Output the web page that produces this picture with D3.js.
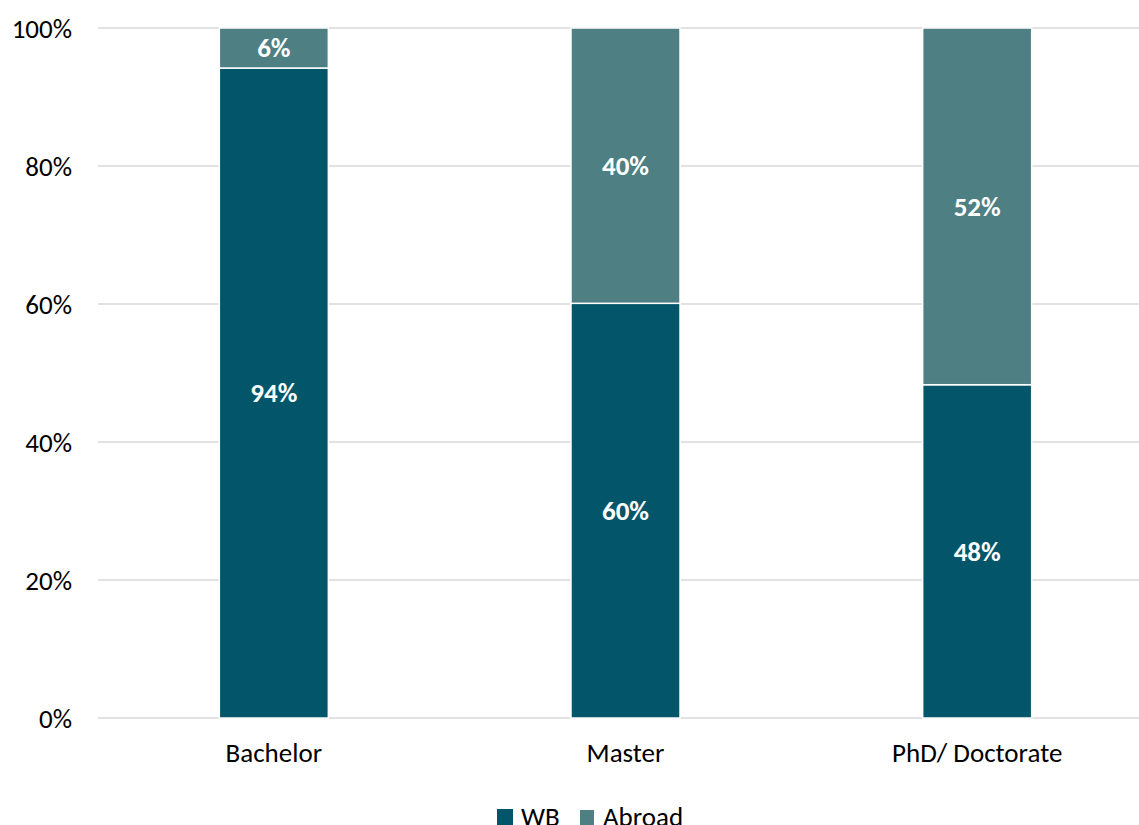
<!DOCTYPE html>
<html><head><meta charset="utf-8">
<script src="https://cdn.jsdelivr.net/npm/d3@7"></script>
<style>body{margin:0;background:#fff}svg{display:block}</style>
</head><body>
<script>
const categories = ["Bachelor", "Master", "PhD/ Doctorate"];
const wbValues = [94.2, 60.1, 48.3];
const abroadValues = [5.8, 39.9, 51.7];
const wbLabels = ["94%", "60%", "48%"];
const abroadLabels = ["6%", "40%", "52%"];
const seriesNames = ["WB", "Abroad"];
const tickValues = [0, 20, 40, 60, 80, 100];
const colors = ["#03566A", "#4E7F82"];

const W = 1139, H = 825;
const svg = d3.select("body").append("svg").attr("width", W).attr("height", H);
const font = "Carlito, 'Open Sans', 'Noto Sans', sans-serif";

const x = d3.scaleBand().domain(categories).range([98, 1153]).paddingInner(0.69).paddingOuter(0.345);
const y = d3.scaleLinear().domain([0, 100]).range([718, 28]);

// gridlines
svg.append("g").selectAll("line").data(tickValues).join("line")
  .attr("x1", 98).attr("x2", W).attr("y1", d => y(d)).attr("y2", d => y(d))
  .attr("stroke", "#d9d9d9").attr("stroke-width", 1.3);

// y axis
const yAxis = d3.axisLeft(y).tickValues(tickValues).tickFormat(d => d + "%").tickSize(0).tickPadding(0);
const ga = svg.append("g").attr("transform", "translate(72,0)").call(yAxis);
ga.select(".domain").remove();
ga.selectAll("text").attr("font-family", font).attr("font-size", 27).attr("fill", "#000").attr("dy", "0.35em");

// stacked bars
const data = categories.map((c, i) => ({cat: c, WB: wbValues[i], Abroad: abroadValues[i]}));
const stack = d3.stack().keys(seriesNames)(data);
const labels = [wbLabels, abroadLabels];
stack.forEach((s, si) => {
  const g = svg.append("g");
  g.selectAll("rect").data(s).join("rect")
    .attr("x", d => x(d.data.cat)).attr("width", x.bandwidth())
    .attr("y", d => y(d[1])).attr("height", d => y(d[0]) - y(d[1]))
    .attr("fill", colors[si]).attr("stroke", "#fff").attr("stroke-width", 1.5);
  g.selectAll("text").data(s).join("text")
    .attr("x", d => x(d.data.cat) + x.bandwidth() / 2)
    .attr("y", d => (y(d[0]) + y(d[1])) / 2)
    .attr("dy", "0.35em").attr("text-anchor", "middle")
    .attr("font-family", font).attr("font-size", 27).attr("font-weight", "bold").attr("fill", "#fff")
    .text((d, i) => labels[si][i]);
});

// x axis
const xAxis = d3.axisBottom(x).tickSize(0).tickPadding(0);
const gx = svg.append("g").attr("transform", "translate(0,718)").call(xAxis);
gx.select(".domain").remove();
gx.selectAll("text").attr("font-family", font).attr("font-size", 27).attr("fill", "#000").attr("dy", "0").attr("y", 44);

// legend
const legendX = [497, 580];
const legendSize = [16, 14];
const lg = svg.append("g");
seriesNames.forEach((n, i) => {
  lg.append("rect").attr("x", legendX[i]).attr("y", 809 + (16 - legendSize[i]) / 2).attr("width", legendSize[i]).attr("height", legendSize[i] + 4).attr("fill", colors[i]);
  lg.append("text").attr("x", legendX[i] + (i === 0 ? 24 : 23)).attr("y", 826).attr("font-family", font).attr("font-size", 27).attr("fill", "#000").text(n);
});
</script>
</body></html>
